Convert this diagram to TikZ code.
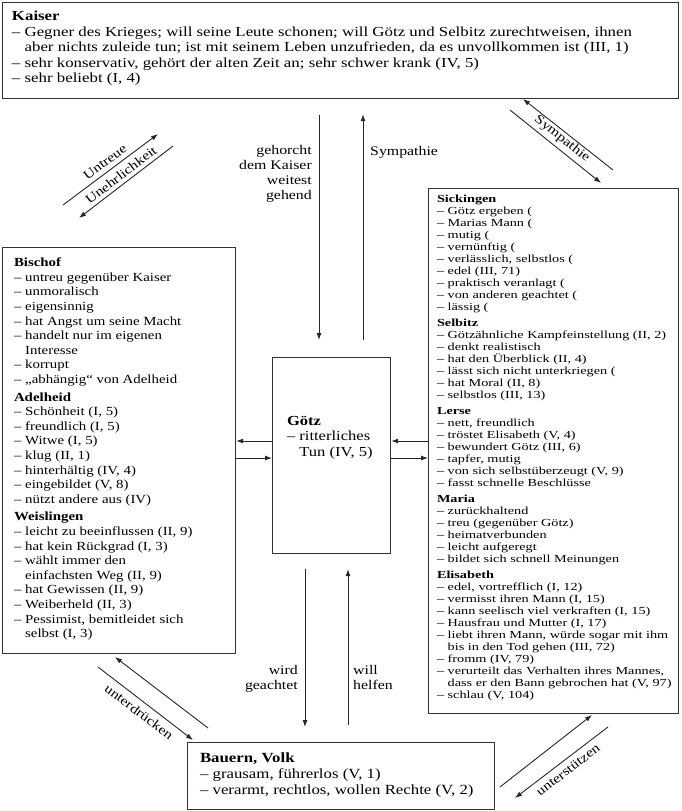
\documentclass[tikz,border=0pt]{standalone}
\usepackage{fontspec}
\setmainfont{Liberation Serif}[FakeStretch=1.2]
\newfontfamily\kbfont{Liberation Serif}[FakeStretch=1.22]
\newfontfamily\rbfont{Liberation Serif}[FakeStretch=1.32]
\usetikzlibrary{arrows.meta}
\begin{document}
\begin{tikzpicture}[x=1pt,y=-1pt,
  box/.style={draw=black!80, line width=1.2pt, fill=white, inner sep=0pt, anchor=north west},
  txt/.style={inner sep=0pt, outer sep=0pt, align=left, anchor=north west, text=black},
  lbl/.style={inner sep=0pt, font=\fontsize{13.2}{15}\selectfont},
  dlbl/.style={inner sep=0pt, font=\fontsize{13}{15}\selectfont},
  conn/.style={draw=black!85, line width=0.9pt},
  arr/.style={conn, -{Latex[length=7pt,width=5pt]}},
]
\useasboundingbox (0,0) rectangle (682,811);

% boxes
\node[box, minimum width=676pt, minimum height=96pt] (kaiser) at (2,2) {};
\node[box, minimum width=233pt, minimum height=406pt] (bischof) at (2,247) {};
\node[box, minimum width=250pt, minimum height=525pt] (sick) at (428,188) {};
\node[box, minimum width=118pt, minimum height=196pt] (goetz) at (272,357) {};
\node[box, minimum width=307pt, minimum height=67pt] (bauern) at (187,742) {};

% texts
\node[txt, font=\kbfont\fontsize{13.8}{15.5}\selectfont] (kaisertext) at (12,11) {%
\textbf{Kaiser}\\
– Gegner des Krieges; will seine Leute schonen; will Götz und Selbitz zurechtweisen, ihnen\\
\phantom{– }aber nichts zuleide tun; ist mit seinem Leben unzufrieden, da es unvollkommen ist (III, 1)\\
– sehr konservativ, gehört der alten Zeit an; sehr schwer krank (IV, 5)\\
– sehr beliebt (I, 4)};

\node[txt, font=\fontsize{12.4}{14.6}\selectfont] (bischoftext) at (14,258) {%
\textbf{Bischof}\\
– untreu gegenüber Kaiser\\
– unmoralisch\\
– eigensinnig\\
– hat Angst um seine Macht\\
– handelt nur im eigenen\\
\phantom{– }Interesse\\
– korrupt\\
– „abhängig“ von Adelheid\\[3pt]
\textbf{Adelheid}\\
– Schönheit (I, 5)\\
– freundlich (I, 5)\\
– Witwe (I, 5)\\
– klug (II, 1)\\
– hinterhältig (IV, 4)\\
– eingebildet (V, 8)\\
– nützt andere aus (IV)\\[3pt]
\textbf{Weislingen}\\
– leicht zu beeinflussen (II, 9)\\
– hat kein Rückgrad (I, 3)\\
– wählt immer den\\
\phantom{– }einfachsten Weg (II, 9)\\
– hat Gewissen (II, 9)\\
– Weiberheld (II, 3)\\
– Pessimist, bemitleidet sich\\
\phantom{– }selbst (I, 3)};

\node[txt, font=\rbfont\fontsize{10.8}{12}\selectfont] (sicktext) at (437,195) {%
\textbf{Sickingen}\\
– Götz ergeben (\\
– Marias Mann (\\
– mutig (\\
– vernünftig (\\
– verlässlich, selbstlos (\\
– edel (III, 71)\\
– praktisch veranlagt (\\
– von anderen geachtet (\\
– lässig (\\[4pt]
\textbf{Selbitz}\\
– Götzähnliche Kampfeinstellung (II, 2)\\
– denkt realistisch\\
– hat den Überblick (II, 4)\\
– lässt sich nicht unterkriegen (\\
– hat Moral (II, 8)\\
– selbstlos (III, 13)\\[4pt]
\textbf{Lerse}\\
– nett, freundlich\\
– tröstet Elisabeth (V, 4)\\
– bewundert Götz (III, 6)\\
– tapfer, mutig\\
– von sich selbstüberzeugt (V, 9)\\
– fasst schnelle Beschlüsse\\[4pt]
\textbf{Maria}\\
– zurückhaltend\\
– treu (gegenüber Götz)\\
– heimatverbunden\\
– leicht aufgeregt\\
– bildet sich schnell Meinungen\\[4pt]
\textbf{Elisabeth}\\
– edel, vortrefflich (I, 12)\\
– vermisst ihren Mann (I, 15)\\
– kann seelisch viel verkraften (I, 15)\\
– Hausfrau und Mutter (I, 17)\\
– liebt ihren Mann, würde sogar mit ihm\\
\phantom{– }bis in den Tod gehen (III, 72)\\
– fromm (IV, 79)\\
– verurteilt das Verhalten ihres Mannes,\\
\phantom{– }dass er den Bann gebrochen hat (V, 97)\\
– schlau (V, 104)};

\node[txt, font=\fontsize{13.8}{15.5}\selectfont] (goetztext) at (287,416) {%
\textbf{Götz}\\
– ritterliches\\
\phantom{– }Tun (IV, 5)};

\node[txt, font=\fontsize{14}{16}\selectfont] (bauerntext) at (200,753) {%
\textbf{Bauern, Volk}\\
– grausam, führerlos (V, 1)\\
– verarmt, rechtlos, wollen Rechte (V, 2)};

% helper coordinates
\coordinate (xa) at (319,0);
\coordinate (xb) at (363,0);
\coordinate (xc) at (305,0);
\coordinate (xd) at (348,0);
\coordinate (ya) at (0,441);
\coordinate (yb) at (0,458);

% vertical connectors
\draw[arr, shorten <=16pt, shorten >=17pt] (kaiser.south -| xa) -- (goetz.north -| xa);
\draw[arr, shorten <=17pt, shorten >=15pt] (goetz.north -| xb) -- (kaiser.south -| xb);
\draw[arr, shorten <=15pt, shorten >=15pt] (goetz.south -| xc) -- (bauern.north -| xc);
\draw[arr, shorten <=17pt, shorten >=15pt] (bauern.north -| xd) -- (goetz.south -| xd);

% horizontal connectors
\draw[arr] (goetz.west |- ya) -- (bischof.east |- ya);
\draw[arr] (bischof.east |- yb) -- (goetz.west |- yb);
\draw[arr] (sick.west |- ya) -- (goetz.east |- ya);
\draw[arr] (goetz.east |- yb) -- (sick.west |- yb);

% labels of vertical connectors
\node[lbl, align=right, anchor=north east] (lgehorcht) at (312,145) {gehorcht\\dem Kaiser\\weitest\\gehend};
\node[lbl, anchor=west] (lsymp) at (370,152) {Sympathie};
\node[lbl, align=right, anchor=north east] (lwird) at (298,665) {wird\\geachtet};
\node[lbl, align=left, anchor=north west] (lwill) at (353,665) {will\\helfen};

% diagonal connectors (free ends)
\coordinate (u1s) at (63,205);  \coordinate (u1e) at (158,134);
\coordinate (u2s) at (173,146); \coordinate (u2e) at (79,218);
\draw[arr] (u1s) -- (u1e);
\draw[arr] (u2s) -- (u2e);
\node[dlbl, rotate=37] (luntreue) at (105,162) {Untreue};
\node[dlbl, rotate=37.5] (lunehr) at (121,175) {Unehrlichkeit};

\coordinate (s1s) at (613,170); \coordinate (s1e) at (523,99);
\coordinate (s2s) at (510,110); \coordinate (s2e) at (601,183);
\draw[arr] (s1s) -- (s1e);
\draw[arr] (s2s) -- (s2e);
\node[dlbl, rotate=-38.5] (lsymp2) at (562,139) {Sympathie};

\coordinate (d1s) at (208,728); \coordinate (d1e) at (115,657);
\coordinate (d2s) at (98,667);  \coordinate (d2e) at (193,740);
\draw[arr] (d1s) -- (d1e);
\draw[arr] (d2s) -- (d2e);
\node[dlbl, rotate=-37.5] (lunterd) at (139,712) {unterdrücken};

\coordinate (t1s) at (500,787); \coordinate (t1e) at (592,715);
\coordinate (t2s) at (608,727); \coordinate (t2e) at (515,798);
\draw[arr] (t1s) -- (t1e);
\draw[arr] (t2s) -- (t2e);
\node[dlbl, rotate=37.5] (lunterst) at (568,770) {unterstützen};
\end{tikzpicture}
\end{document}
